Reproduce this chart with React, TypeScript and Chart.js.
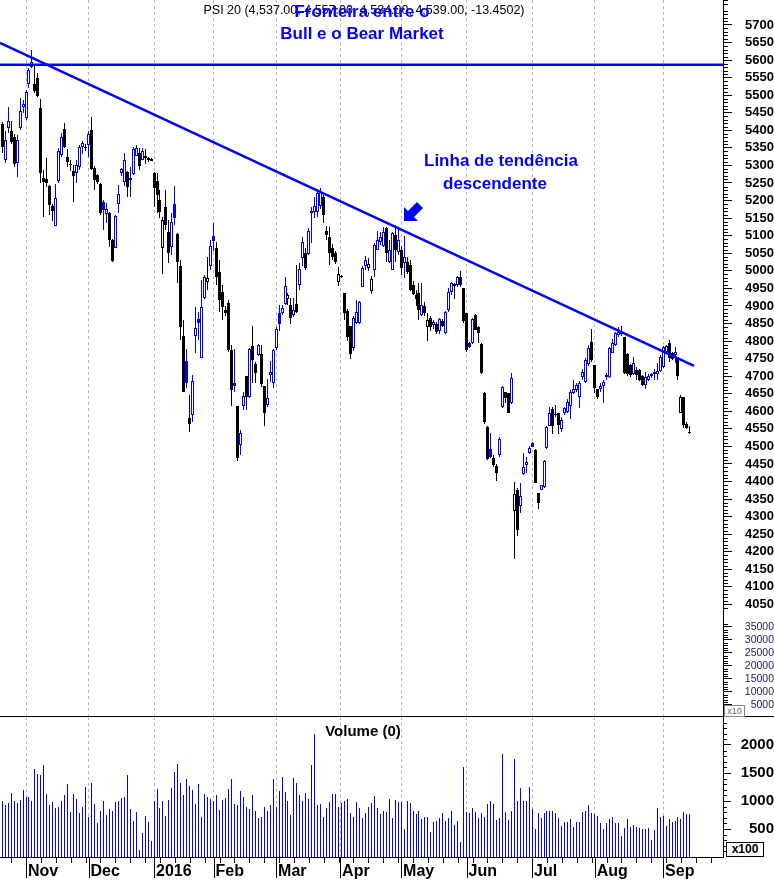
import React, { useEffect, useRef } from 'react';
import { Chart, registerables } from 'chart.js';

Chart.register(...registerables);

// ---------- DATA (PSI 20 daily, Oct 2015 - Sep 2016) ----------
const OPEN: number[] = [
  5418, 5316, 5407, 5398, 5381, 5307, 5407, 5467,
  5435, 5532, 5580, 5532, 5549, 5464, 5264, 5262, 5242, 5185, 5128, 5256, 5330, 5404, 5324, 5305, 5284, 5279, 5296, 5353, 5350,
  5358, 5401, 5293, 5273, 5247, 5196, 5162, 5165, 5088, 5065, 5190, 5279, 5253, 5281, 5264, 5276, 5327, 5335, 5316, 5327, 5321, 5318,
  5278, 5256, 5202, 5065, 5182, 5111, 5068, 5190, 5105, 5014, 4814, 4743, 4581, 4590, 4814, 4863, 4752, 4923, 4968, 5014,
  5100, 5065, 4997, 4940, 4888, 4908, 4775, 4680, 4615, 4504, 4615, 4700, 4641, 4786, 4735, 4760, 4763, 4672, 4618, 4703, 4681,
  4780, 4880, 4880, 4905, 4920, 4903, 4874, 4905, 4960, 5037, 5051, 5048, 5165, 5168, 5168, 5185, 5210, 5113, 5096, 5065, 5050, 4968,
  4985, 4937, 4886, 4843, 4780, 4851, 4851, 4954, 5014, 5008, 4943, 5003, 5060, 5082, 5071, 5122, 5025, 5003, 5102, 5054, 5060,
  5023, 5025, 5017, 4960, 4931, 4937, 4874, 4900, 4840, 4866, 4845, 4849, 4829, 4857, 4823, 4889, 4940, 4957, 4960, 4982, 4951,
  4880, 4794, 4794, 4874, 4840, 4792, 4652, 4555, 4493, 4467, 4445, 4475, 4612, 4655, 4652, 4624, 4316, 4376, 4330, 4421, 4447, 4481,
  4510, 4491, 4367, 4376, 4385, 4496, 4558, 4607, 4590, 4595, 4550, 4595, 4598, 4615, 4652, 4661, 4641, 4698, 4683, 4735, 4797,
  4732, 4664, 4664, 4672, 4698, 4698, 4766, 4789, 4817, 4826, 4812, 4763, 4732, 4707, 4718, 4718, 4701, 4675, 4690, 4700, 4707, 4707, 4715,
  4726, 4770, 4794, 4766, 4760, 4755, 4595, 4641, 4564, 4537,
];
const HIGH: number[] = [
  5424, 5398, 5466, 5427, 5390, 5387, 5492, 5486,
  5515, 5577, 5629, 5586, 5563, 5489, 5287, 5321, 5245, 5190, 5247, 5350, 5392, 5421, 5347, 5316, 5301, 5316, 5358, 5370, 5362,
  5398, 5438, 5298, 5276, 5250, 5202, 5193, 5168, 5090, 5159, 5244, 5293, 5335, 5284, 5296, 5352, 5358, 5350, 5350, 5347, 5324, 5321,
  5281, 5278, 5230, 5153, 5230, 5145, 5165, 5241, 5108, 5031, 4860, 4777, 4646, 4704, 4897, 4883, 4974, 4988, 5040, 5088,
  5136, 5082, 5031, 4960, 4900, 4917, 4790, 4777, 4615, 4547, 4655, 4700, 4780, 4843, 4740, 4792, 4789, 4672, 4693, 4743, 4778,
  4840, 4903, 4903, 4982, 4937, 4923, 4923, 5017, 5023, 5097, 5065, 5122, 5182, 5210, 5230, 5236, 5219, 5128, 5125, 5075, 5055, 5011,
  4988, 4937, 4890, 4843, 4871, 4917, 4914, 5014, 5042, 5037, 4985, 5080, 5113, 5111, 5125, 5125, 5088, 5111, 5131, 5122, 5071,
  5099, 5040, 5031, 4970, 4945, 4965, 4965, 4910, 4880, 4870, 4860, 4855, 4866, 4863, 4885, 4951, 4968, 4965, 4985, 5000, 4951,
  4880, 4797, 4866, 4877, 4843, 4795, 4655, 4558, 4538, 4476, 4450, 4527, 4672, 4655, 4652, 4709, 4399, 4382, 4396, 4481, 4470, 4500,
  4513, 4493, 4367, 4391, 4462, 4558, 4612, 4612, 4618, 4595, 4584, 4612, 4635, 4661, 4690, 4680, 4686, 4720, 4752, 4790, 4834,
  4732, 4664, 4680, 4690, 4710, 4783, 4806, 4826, 4840, 4843, 4812, 4766, 4735, 4755, 4726, 4720, 4703, 4712, 4705, 4710, 4720, 4738, 4760,
  4786, 4789, 4803, 4770, 4783, 4755, 4645, 4641, 4570, 4557,
];
const LOW: number[] = [
  5335, 5307, 5392, 5360, 5296, 5267, 5401, 5449,
  5429, 5520, 5577, 5506, 5495, 5250, 5153, 5239, 5159, 5142, 5128, 5250, 5324, 5350, 5296, 5284, 5196, 5250, 5287, 5333, 5340,
  5324, 5287, 5230, 5247, 5159, 5116, 5136, 5068, 5025, 5065, 5165, 5270, 5241, 5210, 5210, 5273, 5327, 5287, 5316, 5304, 5310, 5312,
  5182, 5165, 5150, 4991, 5116, 5023, 5045, 5131, 4965, 4803, 4655, 4666, 4541, 4570, 4766, 4803, 4752, 4920, 4946, 5003,
  5057, 4960, 4883, 4860, 4870, 4770, 4615, 4655, 4458, 4476, 4604, 4604, 4638, 4681, 4681, 4757, 4669, 4558, 4613, 4683, 4666,
  4775, 4829, 4875, 4903, 4903, 4849, 4868, 4880, 4946, 5014, 5003, 5045, 5079, 5150, 5153, 5176, 5136, 5088, 5017, 5030, 5020, 4957,
  4980, 4860, 4800, 4749, 4772, 4849, 4848, 4954, 5003, 5000, 4934, 4983, 5060, 5074, 5068, 5025, 5023, 5003, 5025, 5045, 4988,
  4980, 4990, 4943, 4931, 4900, 4860, 4871, 4870, 4800, 4830, 4835, 4820, 4820, 4840, 4820, 4883, 4931, 4920, 4955, 4955, 4850,
  4770, 4780, 4792, 4832, 4794, 4705, 4565, 4460, 4467, 4440, 4402, 4470, 4610, 4624, 4595, 4620, 4180, 4245, 4310, 4419, 4424, 4478,
  4498, 4395, 4322, 4376, 4382, 4493, 4558, 4536, 4585, 4536, 4541, 4590, 4595, 4578, 4650, 4655, 4610, 4690, 4680, 4730, 4740,
  4652, 4635, 4655, 4625, 4690, 4695, 4766, 4786, 4812, 4815, 4707, 4700, 4698, 4703, 4690, 4686, 4672, 4664, 4685, 4695, 4690, 4690, 4712,
  4723, 4765, 4740, 4745, 4738, 4690, 4595, 4553, 4550, 4534,
];
const CLOSE: number[] = [
  5353, 5373, 5427, 5367, 5304, 5373, 5455, 5475,
  5509, 5572, 5594, 5512, 5498, 5278, 5253, 5250, 5187, 5170, 5207, 5341, 5381, 5353, 5310, 5302, 5270, 5301, 5353, 5364, 5349,
  5390, 5290, 5259, 5253, 5165, 5173, 5176, 5088, 5028, 5156, 5219, 5290, 5316, 5239, 5258, 5347, 5350, 5298, 5342, 5321, 5316, 5314,
  5236, 5216, 5168, 5145, 5131, 5051, 5139, 5150, 5025, 4840, 4655, 4680, 4564, 4686, 4837, 4852, 4897, 4983, 4980, 5071,
  5085, 4983, 4917, 4897, 4880, 4775, 4661, 4671, 4467, 4539, 4644, 4640, 4777, 4746, 4709, 4789, 4678, 4595, 4638, 4712, 4775,
  4834, 4849, 4894, 4957, 4931, 4866, 4889, 4883, 5006, 5082, 5008, 5113, 5171, 5185, 5222, 5225, 5159, 5102, 5051, 5040, 5025, 4991,
  4982, 4880, 4812, 4763, 4866, 4883, 4911, 5008, 5031, 5020, 4977, 5074, 5088, 5096, 5111, 5051, 5060, 5108, 5060, 5088, 5008,
  5040, 4997, 4946, 4934, 4920, 4889, 4903, 4880, 4860, 4840, 4854, 4826, 4863, 4843, 4883, 4940, 4965, 4963, 4982, 4960, 4857,
  4775, 4783, 4863, 4832, 4823, 4709, 4570, 4465, 4471, 4447, 4424, 4520, 4669, 4638, 4595, 4695, 4365, 4262, 4359, 4441, 4456, 4496,
  4499, 4396, 4339, 4390, 4459, 4555, 4595, 4558, 4593, 4561, 4575, 4609, 4627, 4655, 4664, 4675, 4681, 4712, 4746, 4780, 4746,
  4666, 4641, 4672, 4683, 4703, 4780, 4794, 4823, 4826, 4820, 4709, 4706, 4703, 4738, 4703, 4689, 4675, 4698, 4700, 4705, 4712, 4715, 4755,
  4783, 4786, 4752, 4749, 4769, 4701, 4641, 4561, 4553, 4539,
];
const VOLUME: number[] = [
  1000, 930, 960, 1150, 1000, 960, 1020, 1200,
  1080, 1080, 1000, 1580, 1480, 1460, 1650, 1130, 930, 980, 880, 900, 1000, 1100, 1300, 800, 1130, 1040, 780, 900, 1250,
  720, 1330, 940, 600, 830, 1000, 750, 850, 830, 980, 1000, 1060, 1080, 1470, 860, 640, 800, 120, 420, 740, 620, 280,
  1000, 1220, 880, 1000, 740, 1020, 1230, 1520, 1660, 1330, 1100, 1400, 1260, 1200, 940, 1310, 720, 1120, 1080, 1040,
  1000, 1100, 840, 1020, 1050, 1220, 1390, 950, 920, 1180, 1080, 900, 860, 1100, 830, 700, 720, 900, 820, 930, 1400,
  900, 1180, 1420, 1160, 1000, 750, 1410, 1330, 1100, 1000, 1140, 1040, 1640, 2200, 920, 950, 720, 880, 980, 1130, 1130, 900,
  960, 1000, 1040, 780, 720, 990, 880, 700, 780, 900, 970, 1090, 880, 760, 820, 800, 1040, 700, 1020, 990, 980,
  500, 1000, 970, 820, 770, 820, 680, 720, 720, 450, 620, 640, 700, 790, 640, 690, 820, 570, 650, 270, 1600,
  800, 780, 870, 800, 700, 780, 720, 950, 1000, 950, 660, 700, 1840, 800, 660, 820, 1750, 1000, 1240, 1000, 1000, 1250,
  860, 500, 780, 700, 790, 830, 830, 830, 780, 700, 550, 620, 620, 670, 540, 620, 620, 800, 830, 920, 780,
  760, 730, 600, 500, 610, 680, 720, 610, 600, 380, 510, 670, 530, 570, 530, 510, 500, 500, 510, 300, 480, 880, 720,
  740, 560, 680, 620, 640, 720, 680, 810, 760, 760,
];

const MONTH_LABELS: string[] = ['Nov', 'Dec', '2016', 'Feb', 'Mar', 'Apr', 'May', 'Jun', 'Jul', 'Aug', 'Sep'];
const MONTH_POS: number[] = [8, 29, 51, 71, 92, 113.5, 134, 156, 178, 199, 222];

const PRICE_LABEL_MIN = 4050;
const PRICE_LABEL_MAX = 5700;
const PRICE_LABEL_STEP = 50;
const OVERLAY_LABELS: number[] = [35000, 30000, 25000, 20000, 15000, 10000, 5000];
const VOLUME_LABELS: number[] = [500, 1000, 1500, 2000];

const BULL_BEAR_LEVEL = 5587;
const TREND_FROM = { x: -0.74, y: 5649 };
const TREND_TO = { x: 232.4, y: 4729 };

const TITLE_TEXT = 'PSI 20 (4,537.00, 4,557.00, 4,534.00, 4,539.00, -13.4502)';

// ---------- scale settings ----------
const X_MIN = -0.74;
const X_MAX = 242.12;
const PRICE_MIN = 3732.5;
const PRICE_MAX = 5771;
const VOL_MAX = 2500;
const OVERLAY_BASE = 3727;
const OVERLAY_PER_UNIT = 37 / 5000;

const BLUE = '#0000ff';
const BLACK = '#000000';
const FONT = '"Liberation Sans", Arial, Helvetica, sans-serif';
const AXIS_W = 51;

function makeTickPlugin(id: string, yMinor: number[], yMinorLen: number, xMajor: number[] | null, xMinor: number[] | null) {
  return {
    id,
    afterDraw(chart: any) {
      const ctx = chart.ctx;
      const area = chart.chartArea;
      ctx.save();
      ctx.strokeStyle = '#000';
      ctx.lineWidth = 1;
      ctx.beginPath();
      const ys = chart.scales.y;
      for (const v of yMinor) {
        const py = Math.round(ys.getPixelForValue(v)) + 0.5;
        ctx.moveTo(area.right, py);
        ctx.lineTo(area.right + yMinorLen, py);
      }
      if (xMajor && xMinor) {
        const xs = chart.scales.x;
        const by = Math.round(area.bottom) + 0.5;
        ctx.moveTo(0, by);
        ctx.lineTo(area.right, by);
        for (const v of xMajor) {
          const px = Math.round(xs.getPixelForValue(v)) + 0.5;
          ctx.moveTo(px, area.bottom);
          ctx.lineTo(px, area.bottom + 21);
        }
        for (const v of xMinor) {
          const px = Math.round(xs.getPixelForValue(v)) + 0.5;
          ctx.moveTo(px, area.bottom);
          ctx.lineTo(px, area.bottom + 6);
        }
      }
      ctx.stroke();
      ctx.restore();
    },
  };
}

// snaps bar elements to whole pixels so thin candles / volume bars render crisp
const snapBarsPlugin = {
  id: 'snapBars',
  beforeDatasetsDraw(chart: any) {
    chart.data.datasets.forEach((_ds: any, di: number) => {
      const meta = chart.getDatasetMeta(di);
      if (meta.type !== 'bar') return;
      meta.data.forEach((el: any) => {
        const w = Math.max(1, Math.round(el.width));
        el.width = w;
        el.x = w % 2 === 1 ? Math.floor(el.x) + 0.5 : Math.round(el.x);
        const y = Math.round(el.y);
        let b = Math.round(el.base);
        if (Math.abs(y - b) < 1) b = y + 1;
        el.y = y;
        el.base = b;
      });
    });
  },
};

export default function App() {
  const mainRef = useRef<HTMLCanvasElement | null>(null);
  const volRef = useRef<HTMLCanvasElement | null>(null);

  useEffect(() => {
    document.body.style.margin = '0';
    const mainCanvas = mainRef.current;
    const volCanvas = volRef.current;
    if (!mainCanvas || !volCanvas) return;

    const colors = CLOSE.map((c, i) => (c >= (i === 0 ? OPEN[0] : CLOSE[i - 1]) ? BLUE : BLACK));
    const bodyFill = CLOSE.map((c, i) => (c > OPEN[i] ? '#ffffff' : colors[i]));

    const priceTicks: { value: number; label: string; overlay: boolean }[] = [];
    OVERLAY_LABELS.slice().reverse().forEach((u) =>
      priceTicks.push({ value: OVERLAY_BASE + u * OVERLAY_PER_UNIT, label: String(u), overlay: true })
    );
    for (let v = PRICE_LABEL_MIN; v <= PRICE_LABEL_MAX; v += PRICE_LABEL_STEP) {
      priceTicks.push({ value: v, label: String(v), overlay: false });
    }
    const priceMinor: number[] = [];
    for (let v = 4040; v <= 5770; v += 10) if (v % 50 !== 0) priceMinor.push(v);
    for (let u = 1000; u <= 36000; u += 1000) if (u % 5000 !== 0) priceMinor.push(OVERLAY_BASE + u * OVERLAY_PER_UNIT);

    const volMinor: number[] = [];
    for (let v = 100; v <= 2400; v += 100) if (v % 500 !== 0) volMinor.push(v);
    const weekTicks: number[] = [];
    for (let i = 3; i < X_MAX; i += 5) weekTicks.push(i);

    const zeroPad = (s: any) => {
      s.paddingTop = 0;
      s.paddingBottom = 0;
      s.paddingLeft = 0;
      s.paddingRight = 0;
    };

    const main = new Chart(mainCanvas, {
      type: 'bar',
      data: {
        datasets: [
          {
            type: 'line',
            label: 'Fronteira',
            data: [{ x: X_MIN, y: BULL_BEAR_LEVEL }, { x: X_MAX, y: BULL_BEAR_LEVEL }],
            borderColor: BLUE,
            borderWidth: 2.5,
            pointRadius: 0,
            order: 0,
          } as any,
          {
            type: 'line',
            label: 'Tendência',
            data: [TREND_FROM, TREND_TO],
            borderColor: BLUE,
            borderWidth: 2.5,
            pointRadius: 0,
            order: 0,
          } as any,
          {
            type: 'bar',
            label: 'body',
            data: OPEN.map((o, i) => ({ x: i, y: [o, CLOSE[i]] })),
            backgroundColor: bodyFill,
            borderColor: colors,
            borderWidth: 1,
            borderSkipped: false,
            grouped: false,
            barPercentage: 1,
            categoryPercentage: 1,
            maxBarThickness: 3,
            minBarLength: 1,
            inflateAmount: 0,
            order: 1,
          } as any,
          {
            type: 'bar',
            label: 'wick',
            data: LOW.map((l, i) => ({ x: i, y: [l, HIGH[i]] })),
            backgroundColor: colors,
            borderWidth: 0,
            grouped: false,
            barPercentage: 0.34,
            categoryPercentage: 1,
            inflateAmount: 0,
            order: 2,
          } as any,
        ],
      },
      options: {
        responsive: false,
        animation: false,
        events: [],
        layout: { padding: 0 },
        plugins: { legend: { display: false }, tooltip: { enabled: false } },
        scales: {
          x: {
            type: 'linear',
            min: X_MIN,
            max: X_MAX,
            offset: false,
            afterBuildTicks: (s: any) => {
              s.ticks = MONTH_POS.map((v) => ({ value: v }));
            },
            afterFit: (s: any) => {
              s.height = 0;
              zeroPad(s);
            },
            ticks: { display: false, autoSkip: false },
            grid: { display: true, offset: false, drawTicks: false, color: '#b8b8b8', lineWidth: 1 },
            border: { display: false, dash: [3, 3] },
          },
          y: {
            type: 'linear',
            position: 'right',
            min: PRICE_MIN,
            max: PRICE_MAX,
            afterBuildTicks: (s: any) => {
              s.ticks = priceTicks.map((t) => ({ value: t.value }));
            },
            afterFit: (s: any) => {
              s.width = AXIS_W;
              zeroPad(s);
            },
            grid: { drawOnChartArea: false, drawTicks: true, tickLength: 9, color: '#000' },
            border: { display: true, color: '#000' },
            ticks: {
              autoSkip: false,
              padding: 9,
              crossAlign: 'far',
              callback: (_v: any, i: number) => priceTicks[i].label,
              color: (ctx: any) => (priceTicks[ctx.index] && priceTicks[ctx.index].overlay ? '#23235e' : '#000'),
              font: (ctx: any) =>
                priceTicks[ctx.index] && priceTicks[ctx.index].overlay
                  ? { family: FONT, size: 10.5, weight: 'normal' }
                  : { family: FONT, size: 13, weight: 'bold' },
            },
          },
        },
      } as any,
      plugins: [snapBarsPlugin, makeTickPlugin('priceTicks', priceMinor, 5, null, null)],
    });

    const vol = new Chart(volCanvas, {
      type: 'bar',
      data: {
        datasets: [
          {
            label: 'Volume',
            data: VOLUME.map((v, i) => ({ x: i, y: v })),
            backgroundColor: BLUE,
            borderWidth: 0,
            barThickness: 1,
            inflateAmount: 0,
          } as any,
        ],
      },
      options: {
        responsive: false,
        animation: false,
        events: [],
        layout: { padding: 0 },
        plugins: { legend: { display: false }, tooltip: { enabled: false } },
        scales: {
          x: {
            type: 'linear',
            min: X_MIN,
            max: X_MAX,
            offset: false,
            afterBuildTicks: (s: any) => {
              s.ticks = MONTH_POS.map((v) => ({ value: v }));
            },
            afterFit: (s: any) => {
              s.height = 23;
              zeroPad(s);
            },
            ticks: {
              autoSkip: false,
              maxRotation: 0,
              minRotation: 0,
              align: 'start',
              labelOffset: 2,
              padding: 5,
              color: '#000',
              font: { family: FONT, size: 16, weight: 'bold' },
              callback: (_v: any, i: number) => MONTH_LABELS[i],
            },
            grid: { display: true, offset: false, drawTicks: false, color: '#b8b8b8', lineWidth: 1 },
            border: { display: false, dash: [3, 3] },
          },
          y: {
            type: 'linear',
            position: 'right',
            min: 0,
            max: VOL_MAX,
            afterBuildTicks: (s: any) => {
              s.ticks = VOLUME_LABELS.map((v) => ({ value: v }));
            },
            afterFit: (s: any) => {
              s.width = AXIS_W;
              zeroPad(s);
            },
            grid: { drawOnChartArea: false, drawTicks: true, tickLength: 8, color: '#000' },
            border: { display: true, color: '#000' },
            ticks: {
              autoSkip: false,
              padding: 7,
              crossAlign: 'far',
              color: '#000',
              font: { family: FONT, size: 15, weight: 'bold' },
              callback: (v: any) => String(v),
            },
          },
        },
      } as any,
      plugins: [snapBarsPlugin, makeTickPlugin('volTicks', volMinor, 4, MONTH_POS, weekTicks)],
    });

    return () => {
      main.destroy();
      vol.destroy();
    };
  }, []);

  const centered = (cx: number, cy: number, extra: React.CSSProperties): React.CSSProperties => ({
    position: 'absolute',
    left: cx,
    top: cy,
    transform: 'translate(-50%, -50%)',
    whiteSpace: 'nowrap',
    lineHeight: 1,
    fontFamily: FONT,
    ...extra,
  });

  return (
    <div style={{ position: 'relative', width: 774, height: 880, background: '#fff', overflow: 'hidden' }}>
      <div style={{ position: 'absolute', left: 0, top: 0, width: 774, height: 716 }}>
        <canvas ref={mainRef} width={774} height={716} style={{ display: 'block' }} />
      </div>
      <div style={{ position: 'absolute', left: 0, top: 716, width: 774, height: 1, background: '#000' }} />
      <div style={{ position: 'absolute', left: 0, top: 717, width: 774, height: 163 }}>
        <canvas ref={volRef} width={774} height={163} style={{ display: 'block' }} />
      </div>

      <div style={centered(364, 10, { fontSize: 12.5, color: '#000' })}>{TITLE_TEXT}</div>
      <div style={centered(362, 11, { fontSize: 17, fontWeight: 'bold', color: BLUE })}>Fronteira entre o</div>
      <div style={centered(362, 33, { fontSize: 17, fontWeight: 'bold', color: BLUE })}>Bull e o Bear Market</div>
      <div style={centered(501, 160, { fontSize: 17, fontWeight: 'bold', color: BLUE })}>Linha de tendência</div>
      <div style={centered(495, 183, { fontSize: 17, fontWeight: 'bold', color: BLUE })}>descendente</div>
      <div style={centered(363, 730, { fontSize: 15, fontWeight: 'bold', color: '#000' })}>Volume (0)</div>

      <svg style={{ position: 'absolute', left: 403, top: 201 }} width={21} height={21} viewBox="0 0 21 21">
        <polygon points="1,20 1,6 5,10 14,1 20,7 11,16 15,20" fill={BLUE} />
      </svg>

      <div
        style={{
          position: 'absolute', left: 724, top: 705, width: 19, height: 10, border: '1px solid #888',
          fontFamily: FONT, fontSize: 9, lineHeight: '10px', color: '#666', textAlign: 'center', background: '#fff',
        }}
      >
        x10
      </div>
      <div
        style={{
          position: 'absolute', left: 726, top: 842, width: 36, height: 13, border: '1px solid #000',
          fontFamily: FONT, fontSize: 12, fontWeight: 'bold', lineHeight: '13px', color: '#000', textAlign: 'center', background: '#fff',
        }}
      >
        x100
      </div>
    </div>
  );
}
